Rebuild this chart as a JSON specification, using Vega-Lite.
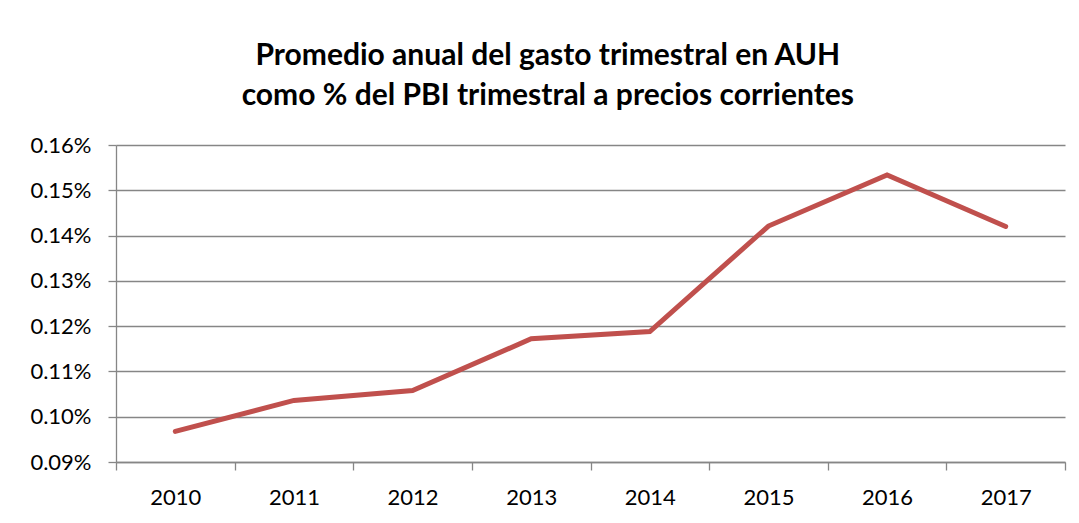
{
  "$schema": "https://vega.github.io/schema/vega-lite/v6.json",
  "autosize": {"type": "none"},
  "width": 949,
  "height": 317,
  "padding": {"left": 116, "top": 145, "right": 14, "bottom": 61},
  "background": "white",
  "title": {
    "text": ["Promedio anual del gasto trimestral en AUH", "como % del PBI trimestral a precios corrientes"],
    "font": "Lato",
    "fontSize": 30,
    "fontWeight": "bold",
    "color": "#000000",
    "lineHeight": 40,
    "anchor": "middle",
    "frame": "bounds",
    "offset": 23
  },
  "data": {
    "values": [
      {"year": "2010", "value": 0.0009675},
      {"year": "2011", "value": 0.001036},
      {"year": "2012", "value": 0.001058},
      {"year": "2013", "value": 0.001172},
      {"year": "2014", "value": 0.001188},
      {"year": "2015", "value": 0.001421},
      {"year": "2016", "value": 0.001534},
      {"year": "2017", "value": 0.001420}
    ]
  },
  "mark": {"type": "line", "color": "#C0504D", "strokeWidth": 5, "strokeCap": "round", "strokeJoin": "miter"},
  "encoding": {
    "x": {
      "field": "year",
      "type": "ordinal",
      "bandPosition": 0.5,
      "scale": {"type": "band", "paddingInner": 0, "paddingOuter": 0},
      "axis": {
        "title": null,
        "labelAngle": 0,
        "tickBand": "extent",
        "grid": false,
        "domainColor": "#868686",
        "domainWidth": 1.3,
        "tickColor": "#868686",
        "tickWidth": 1.3,
        "tickSize": 8,
        "labelPadding": 17,
        "labelFont": "Lato",
        "labelFontSize": 22,
        "labelColor": "#000000"
      }
    },
    "y": {
      "field": "value",
      "type": "quantitative",
      "scale": {"domain": [0.0009, 0.0016], "nice": false, "zero": false},
      "axis": {
        "title": null,
        "values": [0.0009, 0.001, 0.0011, 0.0012, 0.0013, 0.0014, 0.0015, 0.0016],
        "format": ".2%",
        "grid": true,
        "gridColor": "#868686",
        "gridWidth": 1.3,
        "domainColor": "#868686",
        "domainWidth": 1.3,
        "tickColor": "#868686",
        "tickWidth": 1.3,
        "tickSize": 8,
        "labelPadding": 17,
        "labelFont": "Lato",
        "labelFontSize": 22,
        "labelColor": "#000000"
      }
    }
  },
  "config": {"view": {"stroke": null}}
}
